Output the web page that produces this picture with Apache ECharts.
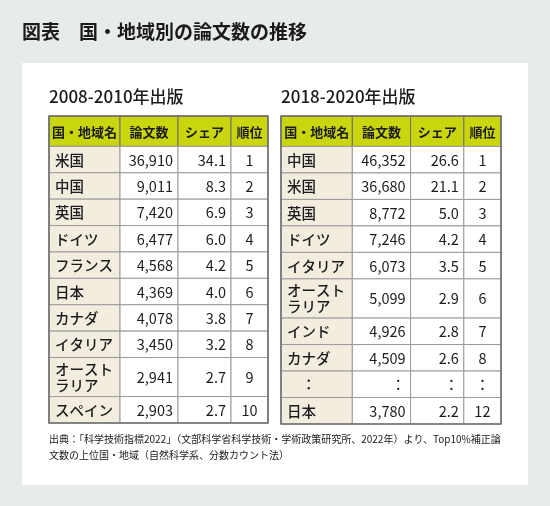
<!DOCTYPE html>
<html>
<head>
<meta charset="utf-8">
<script src="https://cdn.jsdelivr.net/npm/echarts@6/dist/echarts.min.js"></script>
<style>
  html, body { margin: 0; padding: 0; background: #e8ece9; }
  #main { width: 550px; height: 506px; }
</style>
</head>
<body>
<div id="main"></div>
<script>
// 表の中身
const headers = ["国・地域名", "論文数", "シェア", "順位"];

const names2010 = ["米国", "中国", "英国", "ドイツ", "フランス", "日本", "カナダ", "イタリア", "オースト\nラリア", "スペイン"];
const papers2010 = [36910, 9011, 7420, 6477, 4568, 4369, 4078, 3450, 2941, 2903];
const shares2010 = [34.1, 8.3, 6.9, 6.0, 4.2, 4.0, 3.8, 3.2, 2.7, 2.7];
const ranks2010 = [1, 2, 3, 4, 5, 6, 7, 8, 9, 10];

// null は「：」の行
const names2020 = ["中国", "米国", "英国", "ドイツ", "イタリア", "オースト\nラリア", "インド", "カナダ", null, "日本"];
const papers2020 = [46352, 36680, 8772, 7246, 6073, 5099, 4926, 4509, null, 3780];
const shares2020 = [26.6, 21.1, 5.0, 4.2, 3.5, 2.9, 2.8, 2.6, null, 2.2];
const ranks2020 = [1, 2, 3, 4, 5, 6, 7, 8, null, 12];

const FONT = '"Noto Sans CJK JP", "Noto Sans", sans-serif';
const colUnits = [71, 58, 53, 37]; // 列幅（x軸の単位）
const HEAD_H = 1.15, ROW_H = 1, ROW2_H = 1.48;

function buildTable(names, papers, shares, ranks) {
  const cells = [];
  const colEdges = [0];
  colUnits.forEach(w => colEdges.push(colEdges[colEdges.length - 1] + w));
  let y = 0;
  headers.forEach((h, c) => {
    cells.push({ value: [colEdges[c], y, colEdges[c + 1], y + HEAD_H], text: h, kind: "head", col: c });
  });
  y += HEAD_H;
  names.forEach((n, i) => {
    const h = n && n.indexOf("\n") >= 0 ? ROW2_H : ROW_H;
    const texts = [
      n == null ? "　：" : n,
      papers[i] == null ? "：" : papers[i].toLocaleString("en-US"),
      shares[i] == null ? "：" : shares[i].toFixed(1),
      ranks[i] == null ? "：" : String(ranks[i])
    ];
    texts.forEach((t, c) => {
      cells.push({ value: [colEdges[c], y, colEdges[c + 1], y + h], text: t, kind: c === 0 ? "name" : "body", col: c });
    });
    y += h;
  });
  cells.push({ value: [0, 0, colEdges[colEdges.length - 1], y], text: "", kind: "frame", col: -1 });
  return { cells: cells, width: colEdges[colEdges.length - 1], height: y };
}

const t1 = buildTable(names2010, papers2010, shares2010, ranks2010);
const t2 = buildTable(names2020, papers2020, shares2020, ranks2020);

function makeRender(table) {
  return function (params, api) {
    const cell = table.cells[params.dataIndex];
    const p0 = api.coord([api.value(0), api.value(1)]);
    const p1 = api.coord([api.value(2), api.value(3)]);
    const w = p1[0] - p0[0], h = p1[1] - p0[1];
    if (cell.kind === "frame") {
      return {
        type: "rect", z2: 10,
        shape: { x: p0[0], y: p0[1], width: w, height: h },
        style: { fill: null, stroke: "#6e6e6e", lineWidth: 1.6 }
      };
    }
    let fill = "#ffffff";
    if (cell.kind === "head") fill = "#c9d60d";
    else if (cell.kind === "name") fill = "#f3ede0";
    let tx, align;
    if (cell.kind === "head" || cell.col === 3) { tx = p0[0] + w / 2; align = "center"; }
    else if (cell.col === 0) { tx = p0[0] + 6; align = "left"; }
    else { tx = p1[0] - 5; align = "right"; }
    let weight = "normal";
    if (cell.kind === "head") weight = "bold";
    else if (cell.kind === "name") weight = 500;
    return {
      type: "group",
      children: [
        {
          type: "rect",
          shape: { x: p0[0], y: p0[1], width: w, height: h },
          style: { fill: fill, stroke: cell.kind === "head" ? "#707070" : "#9a9a9a", lineWidth: 1 }
        },
        {
          type: "text", z2: 5,
          style: {
            text: cell.text, x: tx, y: p0[1] + h / 2 + 0.5,
            align: align, verticalAlign: "middle",
            fontFamily: FONT,
            fontSize: cell.kind === "head" ? 13 : 14.5,
            fontWeight: weight,
            lineHeight: 16,
            fill: "#1c1c1c"
          }
        }
      ]
    };
  };
}

const chart = echarts.init(document.getElementById("main"));

const axisHidden = { show: false, splitLine: { show: false } };

chart.setOption({
  backgroundColor: "#e8ece9",
  animation: false,
  grid: [
    { left: 49, top: 116, width: 219, height: 307 },
    { left: 281, top: 116, width: 220, height: 308 }
  ],
  xAxis: [
    Object.assign({ type: "value", gridIndex: 0, min: 0, max: t1.width }, axisHidden),
    Object.assign({ type: "value", gridIndex: 1, min: 0, max: t2.width }, axisHidden)
  ],
  yAxis: [
    Object.assign({ type: "value", gridIndex: 0, min: 0, max: t1.height, inverse: true }, axisHidden),
    Object.assign({ type: "value", gridIndex: 1, min: 0, max: t2.height, inverse: true }, axisHidden)
  ],
  graphic: [
    { type: "rect", z: -10, shape: { x: 22, y: 63, width: 506, height: 422 }, style: { fill: "#ffffff" } },
    { type: "text", left: 22, top: 22, style: { text: "図表　国・地域別の論文数の推移", font: "bold 19px " + FONT, fill: "#1a1a1a" } },
    { type: "text", left: 49, top: 88, style: { text: "2008-2010年出版", font: "500 17px " + FONT, fill: "#1a1a1a" } },
    { type: "text", left: 281, top: 88, style: { text: "2018-2020年出版", font: "500 17px " + FONT, fill: "#1a1a1a" } },
    { type: "text", left: 49, top: 431, style: {
        text: "出典：「科学技術指標2022」（文部科学省科学技術・学術政策研究所、2022年）より、Top10%補正論\n文数の上位国・地域（自然科学系、分数カウント法）",
        font: "10px " + FONT, lineHeight: 16, fill: "#1a1a1a" } }
  ],
  series: [
    {
      type: "custom", xAxisIndex: 0, yAxisIndex: 0,
      renderItem: makeRender(t1),
      encode: { x: [0, 2], y: [1, 3] },
      data: t1.cells.map(c => c.value),
      silent: true
    },
    {
      type: "custom", xAxisIndex: 1, yAxisIndex: 1,
      renderItem: makeRender(t2),
      encode: { x: [0, 2], y: [1, 3] },
      data: t2.cells.map(c => c.value),
      silent: true
    }
  ]
});
</script>
</body>
</html>
